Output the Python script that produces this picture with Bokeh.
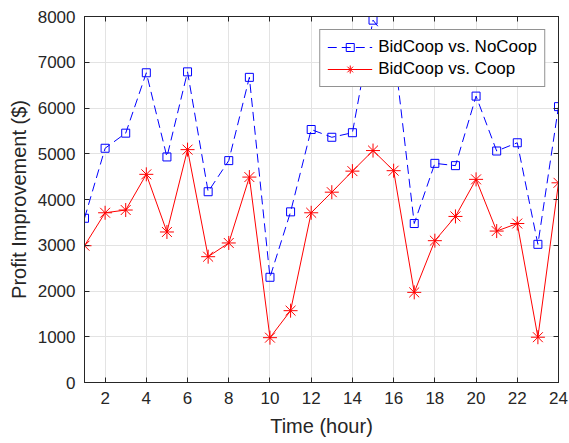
from bokeh.plotting import figure
from bokeh.models import Range1d, LinearAxis, FixedTicker, Legend, LegendItem, ColumnDataSource
from bokeh.embed import file_html
from bokeh.resources import INLINE

hours = list(range(1, 25))
nocoop = [3590, 5120, 5450, 6770, 4930, 6790, 4170, 4850, 6670, 2300, 3730, 5530,
          5360, 5460, 7920, 7350, 3475, 4790, 4740, 6260, 5060, 5240, 3020, 6030]
coop = [2990, 3710, 3770, 4550, 3290, 5090, 2750, 3050, 4490, 980, 1570, 3710,
        4160, 4620, 5070, 4630, 1970, 3100, 3630, 4440, 3310, 3475, 990, 4365]
x_ticks = list(range(2, 25, 2))
y_ticks = list(range(0, 8001, 1000))
series_names = ["BidCoop vs. NoCoop", "BidCoop vs. Coop"]

FONT = "Liberation Sans"
TXT = "#262626"

src = ColumnDataSource(dict(h=hours, a=nocoop, b=coop))

p = figure(width=569, height=443, output_backend="svg", toolbar_location=None,
           x_range=Range1d(1, 24), y_range=Range1d(0, 8000),
           min_border_left=84, min_border_right=11, min_border_top=16, min_border_bottom=61,
           x_axis_label="Time (hour)", y_axis_label="Profit Improvement ($)")
p.outline_line_color = TXT
p.background_fill_color = "white"
p.border_fill_color = "white"

for ax, ticks in ((p.xaxis[0], x_ticks), (p.yaxis[0], y_ticks)):
    ax.ticker = FixedTicker(ticks=ticks)
    ax.major_tick_in = 5
    ax.major_tick_out = 0
    ax.minor_tick_line_color = None
    ax.axis_line_color = TXT
    ax.major_tick_line_color = TXT
    ax.major_label_text_font = FONT
    ax.major_label_text_font_size = "17px"
    ax.major_label_text_color = TXT
    ax.axis_label_text_font = FONT
    ax.axis_label_text_font_size = "20px"
    ax.axis_label_text_font_style = "normal"
    ax.axis_label_text_color = TXT
p.xaxis.major_label_standoff = 9
p.xaxis.axis_label_standoff = 8
p.yaxis.major_label_standoff = 9
p.yaxis.axis_label_standoff = 5

for loc, ticks in (("above", x_ticks), ("right", y_ticks)):
    ax = LinearAxis(ticker=FixedTicker(ticks=ticks), major_tick_in=5, major_tick_out=0,
                    minor_tick_line_color=None, axis_line_color=TXT, major_tick_line_color=TXT,
                    major_label_overrides={t: "" for t in ticks}, major_label_standoff=0,
                    major_label_text_font_size="1px")
    p.add_layout(ax, loc)

p.xgrid.ticker = FixedTicker(ticks=x_ticks)
p.ygrid.ticker = FixedTicker(ticks=y_ticks)
p.grid.grid_line_color = "#e3e3e3"
p.grid.grid_line_width = 1

l1 = p.line("h", "a", source=src, color="#0000ff", line_width=1, line_dash="9 5")
m1 = p.scatter("h", "a", source=src, marker="square", size=8, line_color="#0000ff",
               fill_color=None, line_width=1)
l2 = p.line("h", "b", source=src, color="#ff0000", line_width=1)
m2 = p.scatter("h", "b", source=src, marker="asterisk", size=14, line_color="#ff0000",
               line_width=1)

legend = Legend(items=[LegendItem(label=series_names[0], renderers=[l1, m1]),
                       LegendItem(label=series_names[1], renderers=[l2, m2])],
                location="top_right")
legend.border_line_color = TXT
legend.border_line_width = 1
legend.background_fill_alpha = 1
legend.label_text_font = FONT
legend.label_text_font_size = "17px"
legend.label_text_color = "black"
legend.glyph_width = 45
legend.glyph_height = 20
legend.padding = 7
legend.spacing = 2
legend.margin = 13
legend.label_standoff = 6
p.add_layout(legend)

open("out.html", "w").write(file_html(p, INLINE))
